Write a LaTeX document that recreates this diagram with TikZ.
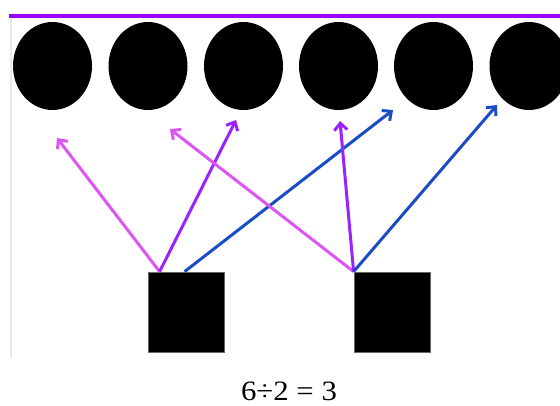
\documentclass[tikz,border=0pt]{standalone}
\usepackage{fontspec}
\setmainfont{Liberation Serif}
\usepackage{tikz}
\usetikzlibrary{positioning,shapes.geometric,arrows.meta,calc}
\definecolor{topline}{HTML}{9A00FF}
\definecolor{pinkarr}{HTML}{DD55F2}
\definecolor{purparr}{HTML}{9A22FF}
\definecolor{bluearr}{HTML}{1A4CC6}
\definecolor{edgegray}{HTML}{E8E8F0}

\tikzset{
    ball/.style={ellipse,fill=black,minimum width=79pt,minimum height=88pt,inner sep=0pt},
    box/.style={rectangle,fill=black,draw=black!60,line width=0.8pt,minimum width=76pt,minimum height=80pt,inner sep=0pt},
    link/.style={-{Straight Barb[length=7pt,width=13pt,line width=3pt]},line width=3pt}
}

\begin{document}
\begin{tikzpicture}[x=1pt,y=-1pt]
            \useasboundingbox (0,0) rectangle (560,405);
            \draw[line width=2.5pt,edgegray] (11,17) -- (11,358);
            \draw[line width=3.5pt,topline] (9,16) -- (560,16);
            \foreach \i/\cx in {1/52.5,2/148,3/243.5,4/338.5,5/433.5,6/529} {
                \node[ball] (b\i) at (\cx,66) {};
            }
            \node[box] (s1) at (186,312) {};
            \node[box] (s2) at (392,312) {};
            \coordinate (p1) at ($(s1.north west)+(12,0)$);
            \coordinate (p2) at ($(s1.north west)+(37,0)$);
            \coordinate (p3) at (s2.north west);
            \foreach \from/\tx/\ty/\col in {
                p1/57/138/pinkarr,
                p1/236/120/purparr,
                p2/393/110/bluearr,
                p3/170/129/pinkarr,
                p3/340/121/purparr,
                p3/497/105/bluearr} {
                \draw[link,\col] (\from) -- (\tx,\ty);
            }
            \node[font=\fontsize{28}{30}\selectfont,anchor=base,xscale=1.1,transform shape,inner sep=0pt] (eq) at (289,400) {6÷2 = 3};
        \end{tikzpicture}
\end{document}
